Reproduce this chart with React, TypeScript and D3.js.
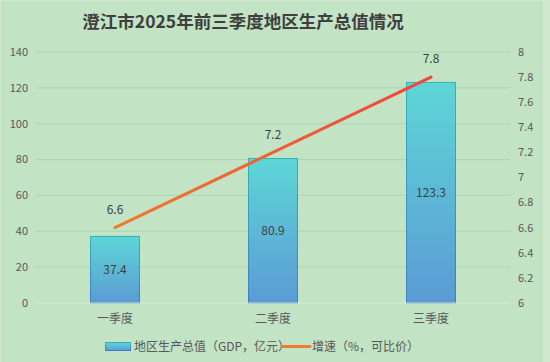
import React from "react";
import * as d3 from "d3";

const categories = ["一季度", "二季度", "三季度"];
const gdpValues = [37.4, 80.9, 123.3];
const growthValues = [6.6, 7.2, 7.8];
const leftTicks = [0, 20, 40, 60, 80, 100, 120, 140];
const rightTicks = [6, 6.2, 6.4, 6.6, 6.8, 7, 7.2, 7.4, 7.6, 7.8, 8];
const title = "澄江市2025年前三季度地区生产总值情况";
const gdpLabel = "地区生产总值（GDP，亿元）";
const growthLabel = "增速（%，可比价）";

const W = 550;
const H = 362;
const margin = { top: 52, right: 40, bottom: 59, left: 36 };
const font = "'Noto Sans CJK SC', 'Noto Sans', sans-serif";

const App = () => {
  const x = d3
    .scaleBand<string>()
    .domain(categories)
    .range([margin.left, W - margin.right])
    .paddingInner(0.684)
    .paddingOuter(0.342);

  const yLeft = d3.scaleLinear().domain([0, 140]).range([H - margin.bottom, margin.top]);
  const yRight = d3.scaleLinear().domain([6, 8]).range([H - margin.bottom, margin.top]);

  const linePts = growthValues.map((v, i) => [x(categories[i])! + x.bandwidth() / 2, yRight(v)] as [number, number]);
  const line = d3.line();

  const x0 = margin.left;
  const x1 = W - margin.right;

  return (
    <svg
      width={W}
      height={H}
      style={{ position: "absolute", top: 0, left: 0, display: "block" }}
      fontFamily={font}
    >
      <defs>
        <linearGradient id="barFill" x1="0" y1="0" x2="0" y2="1">
          <stop offset="0" stopColor="#5dd6d6" />
          <stop offset="1" stopColor="#5b9bd5" />
        </linearGradient>
        <linearGradient id="barStroke" x1="0" y1="0" x2="0" y2="1">
          <stop offset="0" stopColor="#2fb3bb" />
          <stop offset="1" stopColor="#3a7cc4" />
        </linearGradient>
        <linearGradient id="lineStroke" gradientUnits="userSpaceOnUse" x1={linePts[0][0]} y1="0" x2={linePts[2][0]} y2="0">
          <stop offset="0" stopColor="#ee7b30" />
          <stop offset="1" stopColor="#f1443c" />
        </linearGradient>
      </defs>

      <rect x={0} y={0} width={W} height={H} fill="#d0eacf" />
      <rect x={1} y={1} width={542} height={H - 1} fill="#c2e3c4" />

      <text x={243} y={28} textAnchor="middle" fontSize={17.5} fontWeight="bold" fill="#3f3f3f">
        {title}
      </text>

      {/* grid lines */}
      {leftTicks.map((t) =>
        t === 0 ? null : (
          <line key={t} x1={x0} x2={x1} y1={yLeft(t)} y2={yLeft(t)} stroke="#acd8b0" strokeWidth={1} />
        )
      )}

      {/* left axis labels */}
      {leftTicks.map((t) => (
        <text key={t} x={28} y={yLeft(t)} dy="0.35em" textAnchor="end" fontSize={11} fill="#595959">
          {t}
        </text>
      ))}

      {/* right axis labels */}
      {rightTicks.map((t) => (
        <text key={t} x={518} y={yRight(t)} dy="0.35em" textAnchor="start" fontSize={11} fill="#595959">
          {d3.format("~g")(t)}
        </text>
      ))}

      {/* bars */}
      {gdpValues.map((v, i) => {
        const bx = x(categories[i])!;
        const by = yLeft(v);
        return (
          <g key={i}>
            <rect
              x={bx + 0.5}
              y={by + 0.5}
              width={x.bandwidth() - 1}
              height={yLeft(0) - by - 0.5}
              fill="url(#barFill)"
              stroke="url(#barStroke)"
              strokeWidth={1}
            />
            <text
              x={bx + x.bandwidth() / 2}
              y={(by + yLeft(0)) / 2}
              dy="0.35em"
              textAnchor="middle"
              fontSize={12}
              fill="#404040"
            >
              {v}
            </text>
          </g>
        );
      })}

      {/* baseline */}
      <line x1={x0} x2={x1} y1={yLeft(0)} y2={yLeft(0)} stroke="#d6ecd6" strokeWidth={1} />

      {/* category labels */}
      {categories.map((c) => (
        <text
          key={c}
          x={x(c)! + x.bandwidth() / 2}
          y={319}
          dy="0.35em"
          textAnchor="middle"
          fontSize={12}
          fill="#595959"
        >
          {c}
        </text>
      ))}

      {/* growth line */}
      <path d={line(linePts) ?? ""} fill="none" stroke="url(#lineStroke)" strokeWidth={3} strokeLinecap="round" />
      {growthValues.map((v, i) => (
        <text
          key={i}
          x={linePts[i][0]}
          y={linePts[i][1] - 18}
          dy="0.35em"
          textAnchor="middle"
          fontSize={12}
          fill="#404040"
        >
          {v}
        </text>
      ))}

      {/* legend */}
      <rect x={105.5} y={342.5} width={25} height={8} fill="url(#barFill)" stroke="url(#barStroke)" strokeWidth={1} />
      <text x={134} y={346.5} dy="0.35em" fontSize={12} fill="#595959">
        {gdpLabel}
      </text>
      <line x1={283} x2={310} y1={346.5} y2={346.5} stroke="#ee7b30" strokeWidth={3} strokeLinecap="round" />
      <text x={312} y={346.5} dy="0.35em" fontSize={12} fill="#595959">
        {growthLabel}
      </text>
    </svg>
  );
};

export default App;
